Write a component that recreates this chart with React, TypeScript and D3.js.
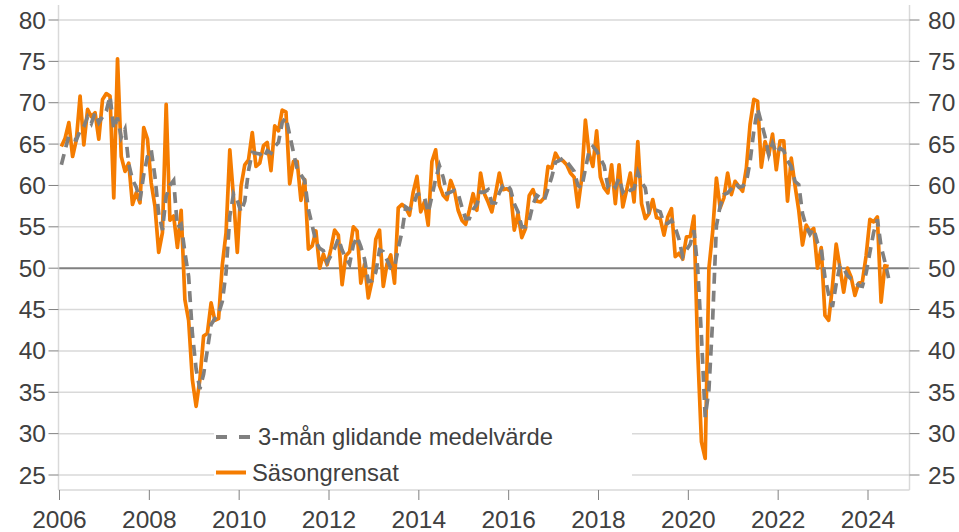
import React from 'react';
import * as d3 from 'd3';

const startYear = 2006;

// Säsongrensat, monthly from Jan 2006
const sasongrensat: number[] = [
  64.7, 65.7, 67.6, 63.5, 65.5, 70.8, 64.9, 69.2, 68.3, 68.8, 65.6, 70.4,
  71.1, 70.8, 58.5, 75.3, 63.5, 61.7, 62.7, 57.7, 59.1, 57.9, 67.0, 65.6,
  60.3, 57.5, 51.9, 54.3, 69.8, 55.8, 56.3, 52.5, 57.0, 46.2, 43.7, 36.5,
  33.3, 36.5, 41.8, 42.1, 45.8, 43.7, 43.9, 50.4, 54.3, 64.3, 58.5, 51.9,
  59.9, 62.5, 63.1, 66.4, 62.3, 62.7, 64.8, 65.2, 61.8, 67.2, 66.6, 69.1,
  68.9, 60.2, 62.9, 62.9, 58.2, 60.7, 52.3, 52.7, 54.5, 50.0, 51.7, 50.4,
  52.3, 54.6, 54.0, 48.0, 51.5, 52.0, 55.0, 54.5, 48.2, 50.5, 46.4, 48.5,
  53.5, 54.6, 47.8, 50.5, 51.6, 48.2, 57.3, 57.7, 57.3, 56.4, 59.2, 61.1,
  56.8, 58.0, 55.2, 62.9, 64.3, 60.0, 58.8, 58.3, 60.6, 59.4, 57.0, 55.8,
  55.3, 57.0, 59.0, 57.0, 61.5, 59.0, 58.0, 56.8, 59.0, 61.5, 59.5, 59.6,
  59.3, 54.6, 56.6, 53.7, 54.8, 58.8, 59.5, 58.1, 58.0, 58.5, 62.3, 62.1,
  63.9, 63.1, 63.0, 62.5, 61.5, 61.0, 57.4, 60.8, 67.9, 63.8, 62.3, 66.6,
  61.0, 59.7, 59.1, 62.5, 57.8, 62.5, 57.4, 59.4, 61.5, 58.0, 65.3, 57.8,
  56.0, 56.6, 58.3, 56.1, 56.0, 54.0, 56.2, 57.2, 51.4, 51.8, 51.1, 53.8,
  53.8, 56.3, 40.0, 29.0, 27.0, 50.0, 54.4, 60.9, 57.3, 58.5, 61.5, 58.9,
  60.5, 59.9, 59.3, 62.1, 67.4, 70.4, 70.2, 62.2, 65.3, 63.7, 66.2, 61.9,
  65.4, 65.4, 58.1, 63.3, 60.0, 57.0, 52.8, 55.2, 54.4, 54.8, 50.0, 52.5,
  44.3, 43.7, 47.8, 52.9, 50.1, 47.1, 50.0, 48.9, 46.7, 48.2, 48.4, 51.5,
  55.9, 55.6, 56.2, 45.9, 50.3, 50.2,
];

// 3-mån glidande medelvärde, monthly from Jan 2006
const glidande: number[] = [
  62.5, 64.3, 66.0, 65.6, 65.5, 66.6, 67.1, 68.3, 67.5, 68.8, 67.6, 68.3,
  69.0, 70.8, 66.8, 68.2, 65.8, 66.8, 62.6, 60.7, 59.8, 58.2, 61.3, 63.5,
  64.3, 61.1, 56.6, 54.6, 58.7, 60.0, 60.6, 54.9, 55.3, 51.9, 49.0, 42.1,
  37.8, 35.4, 37.2, 40.1, 43.2, 43.9, 44.5, 46.0, 49.5, 56.3, 59.0, 58.2,
  56.8, 58.1, 61.8, 64.0, 63.9, 63.8, 63.3, 64.2, 63.9, 64.7, 65.2, 67.6,
  68.2, 66.1, 64.0, 62.0, 61.3, 60.6, 57.1, 55.2, 53.2, 52.4, 52.1, 50.7,
  51.5, 52.4, 53.6, 52.2, 51.2, 50.5, 52.8, 53.8, 52.6, 51.1, 48.4, 48.5,
  49.5, 52.2, 52.0, 51.0, 50.0, 50.1, 52.4, 54.4, 57.4, 57.1, 57.6, 58.9,
  59.0, 58.6, 56.7, 58.7, 60.8, 62.4, 61.0, 59.0, 59.2, 59.4, 59.0, 57.4,
  56.0, 56.0, 57.1, 57.7, 59.2, 59.2, 59.5, 57.9, 57.9, 59.1, 60.0, 60.2,
  59.5, 57.8, 56.8, 55.0, 55.0, 55.8, 57.7, 58.8, 58.5, 58.2, 59.6, 61.0,
  62.8, 63.0, 63.3, 62.9, 62.3, 61.7, 60.0, 59.7, 62.0, 64.2, 64.7, 64.2,
  63.3, 62.4, 59.9, 60.4, 59.8, 60.9, 59.2, 59.8, 59.4, 59.6, 61.6, 60.4,
  59.7, 56.8, 57.0, 57.0, 56.8, 55.4, 55.4, 55.8, 54.9, 53.5, 51.4, 52.2,
  52.9, 54.6, 50.0, 41.8, 32.0, 35.3, 43.8, 55.1, 57.5, 58.9, 59.1, 59.6,
  60.3, 59.8, 59.9, 60.4, 62.9, 66.6, 69.3, 67.6, 65.9, 63.7, 65.1, 63.9,
  64.5, 64.2, 63.0, 62.3, 60.5, 60.1, 56.6, 55.0, 54.1, 54.8, 53.1, 52.4,
  48.9, 46.8, 45.3, 48.1, 50.3, 50.0, 49.1, 48.7, 48.5, 47.9, 47.8, 49.4,
  51.9, 54.3, 55.9, 52.6, 50.8, 48.8,
];

const yTicks = [25, 30, 35, 40, 45, 50, 55, 60, 65, 70, 75, 80];
const xTicks = [2006, 2008, 2010, 2012, 2014, 2016, 2018, 2020, 2022, 2024];
const legendLabels = ['3-mån glidande medelvärde', 'Säsongrensat'];

const W = 959;
const H = 532;
const plotLeft = 58.5;
const plotRight = 909.5;
const plotTop = 5;
const plotBottom = 490;

const ORANGE = '#F57C00';
const GREY = '#808080';
const GRID = '#D9D9D9';
const TEXT = '#404040';
const FONT = "'Liberation Sans', Arial, sans-serif";

export default function App() {
  const x = d3.scaleLinear().domain([2006, 2024]).range([59.5, 868]);
  const y = d3.scaleLinear().domain([25, 80]).range([475, 20]);
  const t = (i: number) => startYear + (i + 0.5) / 12;

  const line = d3
    .line<number>()
    .x((_, i) => x(t(i)))
    .y((d) => y(d));

  return (
    <svg
      width={W}
      height={H}
      style={{ position: 'absolute', left: 0, top: 0, background: '#fff' }}
      fontFamily={FONT}
    >
      <rect x={0} y={0} width={W} height={H} fill="#fff" />
      {/* gridlines */}
      {yTicks.map((v) => (
        <line
          key={'g' + v}
          x1={plotLeft}
          x2={plotRight}
          y1={y(v)}
          y2={y(v)}
          stroke={v === 50 ? GREY : GRID}
          strokeWidth={v === 50 ? 2 : 1.5}
        />
      ))}
      {/* axis frame lines */}
      <line x1={plotLeft} x2={plotLeft} y1={plotTop} y2={plotBottom} stroke={GRID} strokeWidth={1.5} />
      <line x1={plotRight} x2={plotRight} y1={plotTop} y2={plotBottom} stroke={GRID} strokeWidth={1.5} />
      <line x1={plotLeft} x2={plotRight} y1={plotBottom} y2={plotBottom} stroke={GRID} strokeWidth={1.5} />

      {/* y ticks and labels left/right */}
      {yTicks.map((v) => (
        <g key={'yt' + v}>
          <line x1={plotLeft - 10} x2={plotLeft} y1={y(v)} y2={y(v)} stroke={GREY} strokeWidth={1} />
          <line x1={plotRight} x2={plotRight + 10} y1={y(v)} y2={y(v)} stroke={GREY} strokeWidth={1} />
          <text x={46} y={y(v)} dy="0.35em" textAnchor="end" fontSize={24.5} fill={TEXT}>
            {v}
          </text>
          <text x={928} y={y(v)} dy="0.35em" textAnchor="start" fontSize={24.5} fill={TEXT}>
            {v}
          </text>
        </g>
      ))}

      {/* x ticks and labels */}
      {xTicks.map((yr) => (
        <g key={'xt' + yr}>
          <line x1={x(yr)} x2={x(yr)} y1={plotBottom} y2={plotBottom + 10} stroke={GREY} strokeWidth={1} />
          <text x={x(yr)} y={527.5} textAnchor="middle" fontSize={24.5} fill={TEXT}>
            {yr}
          </text>
        </g>
      ))}

      {/* series */}
      <path d={line(sasongrensat) || ''} fill="none" stroke={ORANGE} strokeWidth={3.7} strokeLinejoin="round" />
      <path d={line(glidande) || ''} fill="none" stroke={GREY} strokeWidth={3.7} strokeDasharray="11,7" />

      {/* legend */}
      <rect x={214} y={421} width={418} height={65} fill="#fff" />
      <line x1={216} x2={252} y1={437} y2={437} stroke={GREY} strokeWidth={4} strokeDasharray="11,12" />
      <text x={258} y={445} fontSize={23.8} fill={TEXT}>
        {legendLabels[0]}
      </text>
      <line x1={216} x2={246} y1={472.5} y2={472.5} stroke={ORANGE} strokeWidth={4} />
      <text x={252} y={481} fontSize={23.8} fill={TEXT}>
        {legendLabels[1]}
      </text>
    </svg>
  );
}
